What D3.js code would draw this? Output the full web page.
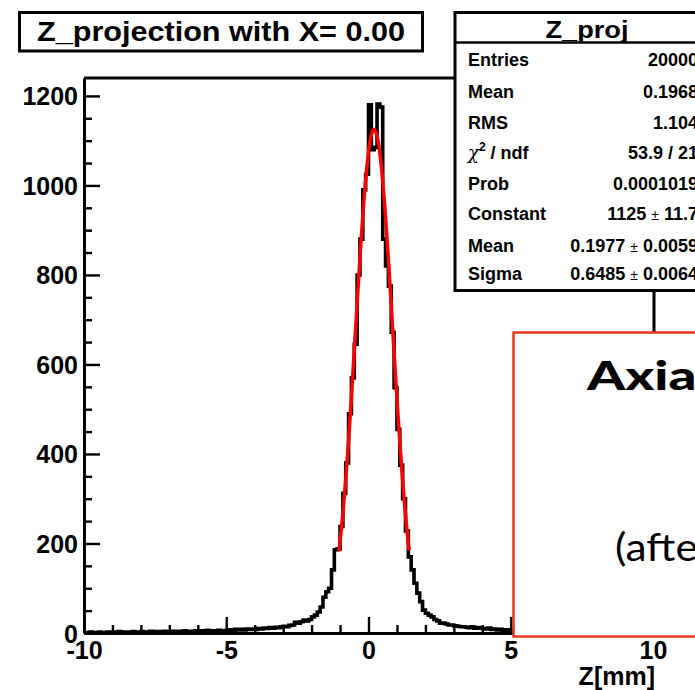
<!DOCTYPE html>
<html><head><meta charset="utf-8">
<script src="https://cdn.jsdelivr.net/npm/d3@7"></script>
<style>body{margin:0;background:#fff}svg{display:block}</style>
</head><body>
<svg id="c" width="695" height="690"></svg>
<script>
// ---------------- data ----------------
const histRange = [-10, 10];          // 200 bins of width 0.1
const binCounts = [
  // -10 .. -5
  1,0,2,1,1,2,0,1,2,1, 2,1,3,1,2,2,1,3,2,2, 3,2,2,4,2,3,3,2,4,3, 3,4,2,4,3,5,3,4,4,5, 4,5,3,6,4,5,5,6,4,5,
  // -5 .. 0
  6,7,6,8,7,8,7,9,8,9, 8,10,9,11,10,12,11,13,12,14, 15,14,17,18,24,22,25,29,27,30,
  36,40,47,58,80,92,100,141,186,188, 238,312,380,490,570,645,800,880,990,1025,
  // 0 .. 5
  1180,1080,1085,1182,1175,880,820,775,672,548, 455,375,300,228,170,141,111,89,70,51,
  44,40,36,30,27,22,22,20,18,18, 16,15,14,14,13,12,14,11,12,11, 10,9,11,8,9,7,8,6,7,6,
  // 5 .. 10 (behind the overlay box)
  6,5,6,4,5,5,4,5,3,4, 4,3,4,3,3,2,4,3,2,3, 2,3,2,2,3,1,2,2,1,2, 2,1,2,1,1,2,1,1,0,1, 1,1,0,1,1,0,1,0,1,1
];
const fitParams = [1125, 0.1977, 0.6485];   // Constant, Mean, Sigma
const fitRange = [-1.04, 1.43];
const xMajorTicks = [-10, -5, 0, 5, 10];
const xMinorTicks = [-9,-8,-7,-6,-4,-3,-2,-1,1,2,3,4,6,7,8,9];
const yMajorTicks = [0, 200, 400, 600, 800, 1000, 1200];
const yMinorTicks = [50,100,150,250,300,350,450,500,550,650,700,750,850,900,950,1050,1100,1150];
const titleText = "Z_projection with X= 0.00";
const xAxisTitle = "Z[mm]";
const statsTitle = "Z_proj";
const statsLabels = ["Entries","Mean","RMS","CHI","Prob","Constant","Mean","Sigma"];
const statsValues = ["20000","0.1968","1.104","53.9 / 21","0.0001019","1125|11.7","0.1977|0.0059","0.6485|0.0064"];
const overlayLines = ["Axial", "(after"];

// ---------------- layout ----------------
const svg = d3.select("#c");
const FONT = "'Liberation Sans', Arial, Helvetica, sans-serif";
const x = d3.scaleLinear().domain(histRange).range([84, 653]);
const y = d3.scaleLinear().domain([0, 1240]).range([633, 78]);

// frame top / right
svg.append("line").attr("x1", 84).attr("x2", 654.5).attr("y1", 78).attr("y2", 78)
  .attr("stroke", "#000").attr("stroke-width", 3);
svg.append("line").attr("x1", 654).attr("x2", 654).attr("y1", 78).attr("y2", 633)
  .attr("stroke", "#000").attr("stroke-width", 3);

// histogram
const bw = (histRange[1] - histRange[0]) / binCounts.length;
const pts = binCounts.map((c, i) => [histRange[0] + i * bw, c]);
pts.push([histRange[1], binCounts[binCounts.length - 1]]);
const step = d3.line().x(d => x(d[0])).y(d => y(d[1])).curve(d3.curveStepAfter);
svg.append("path").attr("d", step(pts)).attr("fill", "none")
  .attr("stroke", "#000").attr("stroke-width", 3.6).attr("stroke-linejoin", "miter");

// fit curve
const [C, M, S] = fitParams;
const fx = d3.range(0, 201).map(i => fitRange[0] + (fitRange[1] - fitRange[0]) * i / 200);
const fitLine = d3.line().x(d => x(d)).y(d => y(C * Math.exp(-0.5 * ((d - M) / S) ** 2)));
svg.append("path").attr("d", fitLine(fx)).attr("fill", "none")
  .attr("stroke", "#ff0000").attr("stroke-width", 3.5);

// axes
function styleAxis(g) {
  g.select(".domain").attr("stroke-width", 3);
  g.selectAll(".tick line").attr("stroke-width", 2.4);
  g.selectAll("text").attr("font-family", FONT).attr("font-weight", "bold")
    .attr("font-size", 25).attr("fill", "#000");
}
const gxMinor = svg.append("g").attr("transform", "translate(0,633)")
  .call(d3.axisBottom(x).tickValues(xMinorTicks).tickSize(-8).tickSizeOuter(0).tickFormat(""));
gxMinor.select(".domain").remove();
gxMinor.selectAll(".tick line").attr("stroke-width", 2.4);
const gyMinor = svg.append("g").attr("transform", "translate(84,0)")
  .call(d3.axisLeft(y).tickValues(yMinorTicks).tickSize(-8).tickSizeOuter(0).tickFormat(""));
gyMinor.select(".domain").remove();
gyMinor.selectAll(".tick line").attr("stroke-width", 2.4);

const gx = svg.append("g").attr("transform", "translate(0,633)")
  .call(d3.axisBottom(x).tickValues(xMajorTicks).tickSize(-16).tickSizeOuter(0)
    .tickPadding(8).tickFormat(d => String(d)));
styleAxis(gx);
const gy = svg.append("g").attr("transform", "translate(84,0)")
  .call(d3.axisLeft(y).tickValues(yMajorTicks).tickSize(-16).tickSizeOuter(0)
    .tickPadding(6).tickFormat(d => String(d)));
styleAxis(gy);
gy.selectAll("text").attr("dy", "0.36em");

svg.append("text").attr("x", 655).attr("y", 685).attr("text-anchor", "end")
  .attr("font-family", FONT).attr("font-weight", "bold").attr("font-size", 25)
  .text(xAxisTitle);

// title box
svg.append("rect").attr("x", 19.5).attr("y", 12.5).attr("width", 403).attr("height", 38.5)
  .attr("fill", "#fff").attr("stroke", "#000").attr("stroke-width", 3);
svg.append("text").attr("x", 221).attr("y", 41).attr("text-anchor", "middle")
  .attr("font-family", FONT).attr("font-weight", "bold").attr("font-size", 28.5)
  .attr("textLength", 368).attr("lengthAdjust", "spacingAndGlyphs").text(titleText);

// stats box
svg.append("rect").attr("x", 455).attr("y", 12.5).attr("width", 300).attr("height", 278)
  .attr("fill", "#fff").attr("stroke", "#000").attr("stroke-width", 3);
svg.append("line").attr("x1", 455).attr("x2", 760).attr("y1", 42.5).attr("y2", 42.5)
  .attr("stroke", "#000").attr("stroke-width", 2.5);
svg.append("text").attr("x", 587).attr("y", 38).attr("text-anchor", "middle")
  .attr("font-family", FONT).attr("font-weight", "bold").attr("font-size", 24)
  .attr("textLength", 83).attr("lengthAdjust", "spacingAndGlyphs").text(statsTitle);

const rowBase = [65.5, 98, 128.5, 159, 189.5, 220, 251.5, 279.5];
statsLabels.forEach((lab, i) => {
  const t = svg.append("text").attr("x", 468).attr("y", rowBase[i])
    .attr("font-family", FONT).attr("font-weight", "bold").attr("font-size", 18);
  if (lab === "CHI") {
    t.append("tspan").attr("font-family", "'DejaVu Serif', serif").attr("font-style", "italic")
      .attr("font-weight", "normal").attr("font-size", 18).text("\u03C7");
    t.append("tspan").attr("font-size", 12).attr("dy", -8).text("2");
    t.append("tspan").attr("dy", 8).text(" / ndf");
  } else t.text(lab);
});
statsValues.forEach((v, i) => {
  const t = svg.append("text").attr("x", 698).attr("y", rowBase[i]).attr("text-anchor", "end")
    .attr("font-family", FONT).attr("font-weight", "bold").attr("font-size", 18);
  if (v.includes("|")) {
    const [a, b] = v.split("|");
    t.append("tspan").text(a + " ");
    t.append("tspan").attr("font-weight", "normal").attr("font-size", 14).text("\u00B1");
    t.append("tspan").text(" " + b);
  } else t.text(v);
});

// overlay box from the slide
svg.append("rect").attr("x", 513.5).attr("y", 332.5).attr("width", 300).attr("height", 304)
  .attr("fill", "#fff").attr("stroke", "#e8381c").attr("stroke-width", 2.5);
svg.append("text").attr("transform", "translate(587,390) scale(1.4,1)")
  .attr("font-family", "Lato, 'Open Sans', sans-serif").attr("font-weight", 900)
  .attr("font-size", 39).attr("fill", "#000").text(overlayLines[0]);
svg.append("text").attr("transform", "translate(615,561) scale(1.12,1)")
  .attr("font-family", "Lato, 'Open Sans', sans-serif").attr("font-size", 38)
  .attr("fill", "#000").text(overlayLines[1]);
</script>
</body></html>
